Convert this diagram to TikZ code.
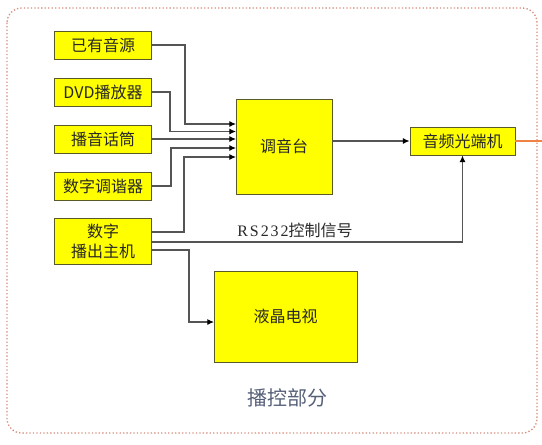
\documentclass[tikz,border=0pt]{standalone}
\usepackage{fontspec}
\setmainfont{Noto Sans CJK SC}
\newfontfamily\rsfont[LetterSpace=12]{Liberation Serif}
\usetikzlibrary{arrows.meta}
\definecolor{boxyellow}{RGB}{255, 255, 0}
\definecolor{boxedge}{RGB}{90, 90, 40}
\definecolor{wiregray}{RGB}{85, 85, 85}
\definecolor{framered}{RGB}{215, 140, 125}
\definecolor{linkorange}{RGB}{240, 130, 70}
\definecolor{titleblue}{RGB}{85, 95, 120}
\definecolor{textgray}{RGB}{40, 40, 40}

\tikzset{
  unit/.style={draw=boxedge, fill=boxyellow, line width=0.7pt, inner sep=0pt,
    minimum width=72.75pt, minimum height=21pt, align=center, text=textgray,
    font=\fontsize{12}{15}\selectfont},
  wire/.style={draw=wiregray, line width=0.8pt, -{Latex[length=5pt,width=4.5pt,black]}},
}

\begin{document}
\begin{tikzpicture}[x=0.75pt, y=-0.75pt]
    \useasboundingbox (0,0) rectangle (542,444);
    % outer frame
    \draw[framered, line width=1pt, dash pattern=on 1pt off 1.6pt, rounded corners=11pt]
      (7,8) rectangle (537,433);

    % sources
    \node[unit] (src) at (103,45) {已有音源};
    \node[unit] (dvd) at (103,92) {DVD播放器};
    \node[unit] (mic) at (103,139) {播音话筒};
    \node[unit] (tuner) at (103,186) {数字调谐器};
    \node[unit, minimum height=34.5pt] (host) at (103,241) {数字\\播出主机};

    % mixer, optic link and screen
    \node[unit, minimum width=72pt, minimum height=71.25pt] (mixer) at (284,146.5) {调音台};
    \node[unit, minimum width=78.75pt] (optic) at (462.5,141) {音频光端机};
    \node[unit, minimum width=107.25pt, minimum height=68.25pt] (tv) at (285.5,316.5) {液晶电视};

    % inputs on the mixer
    \coordinate (in1) at (236,124);
    \coordinate (in2) at (236,131.5);
    \coordinate (in3) at (236,139);
    \coordinate (in4) at (236,148);
    \coordinate (in5) at (236,157);
    \coordinate (tvin) at (214,322);

    \draw[wire] (src.east) -- ++(33,0) |- (in1);
    \draw[wire] (dvd.east) -- ++(18,0) |- (in2);
    \draw[wire] (mic.east) -- (in3);
    \draw[wire] (tuner.east) -- ++(19,0) |- (in4);
    \draw[wire] ([yshift=6.75pt]host.east) -- ++(32,0) |- (in5);
    \draw[wire] (mixer.east |- optic.west) -- (optic.west);
    \draw[wire] ([yshift=-0.75pt]host.east) -| (optic.south);
    \draw[wire] ([yshift=-6.75pt]host.east) -- ++(37,0) |- (tvin);
    \draw[linkorange, line width=0.8pt] (optic.east) -- (542,141);

    % labels
    \node[font=\fontsize{12}{14}\selectfont, text=textgray] (rslabel) at (295,230) {{\rsfont RS232}控制信号};
    \node[font=\fontsize{15}{18}\selectfont, titleblue] (title) at (287,398) {播控部分};
\end{tikzpicture}
\end{document}
